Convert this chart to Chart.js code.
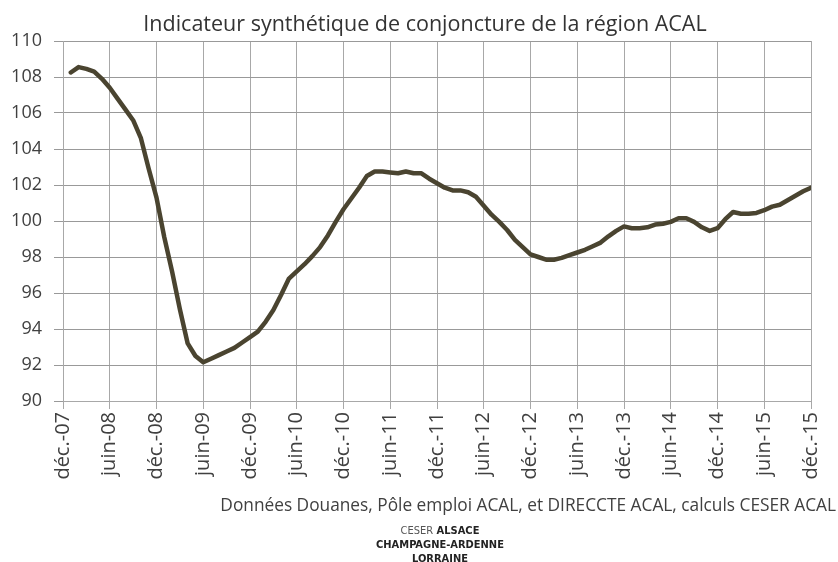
<!DOCTYPE html>
<html>
<head>
<meta charset="utf-8">
<script src="https://cdn.jsdelivr.net/npm/chart.js@4/dist/chart.umd.min.js"></script>
<style>
  body { margin: 0; background: #fff; }
  #wrap { position: relative; width: 838px; height: 562px; }
  #titre { position: absolute; left: 0; width: 850px; top: 8px; text-align: center;
           font-family: "Open Sans", sans-serif; font-size: 21.5px; color: #333; }
  #source { position: absolute; right: 2px; top: 493px;
            font-family: "Open Sans", sans-serif; font-size: 17.3px; color: #404040; }
  #logo { position: absolute; left: 340px; width: 200px; top: 524px; text-align: center;
          font-family: "DejaVu Sans Condensed", sans-serif; font-size: 11px; line-height: 14px;
          color: #222; font-weight: bold; }
  #logo .fin { font-weight: normal; color: #555; }
</style>
</head>
<body>
<div id="wrap">
  <canvas id="graphe" width="838" height="562"></canvas>
  <div id="titre">Indicateur synthétique de conjoncture de la région ACAL</div>
  <div id="source">Données Douanes, Pôle emploi ACAL, et DIRECCTE ACAL, calculs CESER ACAL</div>
  <div id="logo"><span class="fin">CESER</span> ALSACE<br>CHAMPAGNE-ARDENNE<br>LORRAINE</div>
</div>
<script>
// libellés de l'axe des x, un tous les 6 mois à partir de déc.-07
var etiquettes = ["déc.-07", "juin-08", "déc.-08", "juin-09", "déc.-09", "juin-10", "déc.-10", "juin-11",
    "déc.-11", "juin-12", "déc.-12", "juin-13", "déc.-13", "juin-14", "déc.-14", "juin-15", "déc.-15"];

// indicateur mensuel, janv.-08 -> déc.-15
var indicateur = [
    108.25, 108.55, 108.45, 108.3, 107.9, 107.4, 106.8, 106.2, 105.6, 104.6, 102.9, 101.3,
    99.1, 97.2, 95.1, 93.2, 92.5, 92.15, 92.35, 92.55, 92.75, 92.95, 93.25, 93.55,
    93.85, 94.4, 95.05, 95.9, 96.8, 97.2, 97.6, 98.05, 98.55, 99.2, 99.95, 100.65,
    101.25, 101.85, 102.5, 102.75, 102.75, 102.7, 102.65, 102.75, 102.65, 102.65, 102.35, 102.1,
    101.85, 101.7, 101.7, 101.6, 101.35, 100.85, 100.35, 99.95, 99.5, 98.95, 98.55, 98.15,
    98.0, 97.85, 97.85, 97.95, 98.1, 98.25, 98.4, 98.6, 98.8, 99.15, 99.45, 99.7,
    99.6, 99.6, 99.65, 99.8, 99.85, 99.95, 100.15, 100.15, 99.95, 99.65, 99.45, 99.6,
    100.1, 100.5, 100.4, 100.4, 100.45, 100.6, 100.8, 100.9, 101.15, 101.4, 101.65, 101.85
];

var points = indicateur.map(function (v, i) {
    return { x: i + 1, y: v }; // mois 0 = déc.-07
});

new Chart(document.getElementById('graphe'), {
    type: 'line',
    data: {
        datasets: [{
            data: points,
            borderColor: '#4a4430',
            borderWidth: 4.5,
            borderCapStyle: 'round',
            borderJoinStyle: 'round',
            pointRadius: 0,
            tension: 0
        }]
    },
    options: {
        responsive: false,
        animation: false,
        layout: { padding: { top: 41, right: 23, left: 0, bottom: 0 } },
        plugins: { legend: { display: false }, tooltip: { enabled: false } },
        scales: {
            x: {
                type: 'linear',
                min: 0,
                max: 96,
                afterFit: function (s) { s.height = 161; },
                grid: { color: '#a8a8a8', tickLength: 8, tickColor: '#a8a8a8' },
                border: { color: '#a8a8a8' },
                ticks: {
                    stepSize: 6,
                    minRotation: 90,
                    maxRotation: 90,
                    padding: 3,
                    color: '#404040',
                    font: { family: 'Open Sans', size: 20 },
                    callback: function (v) { return etiquettes[v / 6]; }
                }
            },
            y: {
                min: 90,
                max: 110,
                afterFit: function (s) { s.width = 63; },
                grid: { color: '#999999', tickLength: 9, tickColor: '#999999' },
                border: { color: '#a8a8a8' },
                ticks: {
                    stepSize: 2,
                    padding: 12,
                    color: '#404040',
                    font: { family: 'Open Sans', size: 18 }
                }
            }
        }
    }
});
</script>
</body>
</html>
